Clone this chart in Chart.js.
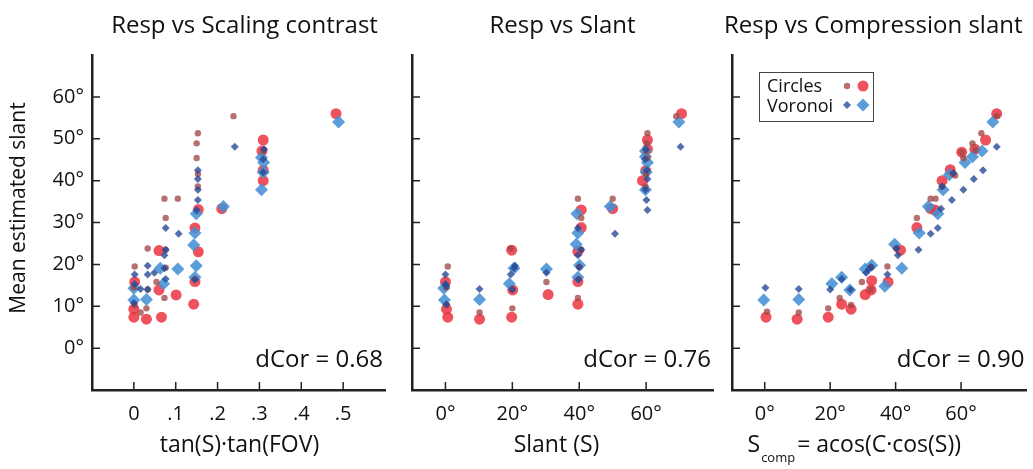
<!DOCTYPE html>
<html>
<head>
<meta charset="utf-8">
<script src="https://cdn.jsdelivr.net/npm/chart.js@4.4.1/dist/chart.umd.min.js"></script>
<style>
  html, body { margin: 0; padding: 0; background: #fff; }
  #wrap { position: relative; width: 1033px; height: 469px; overflow: hidden; }
  .panel { position: absolute; top: 0; height: 469px; }
</style>
</head>
<body>
<div id="wrap">
  <div class="panel" style="left:0;width:395px"><canvas id="c1"></canvas></div>
  <div class="panel" style="left:395px;width:325px"><canvas id="c2"></canvas></div>
  <div class="panel" style="left:720px;width:313px"><canvas id="c3"></canvas></div>
</div>
<script>
// tick values
const yTicks = [0, 10, 20, 30, 40, 50, 60];
const tanTicks = [0, 0.1, 0.2, 0.3, 0.4, 0.5];
const degTicks = [0, 20, 40, 60];

// panel 1: x = tan(S)*tan(FOV)
const tanCirclesBig = [[0.483,56.0],[0.309,49.7],[0.306,47.1],[0.309,42.5],[0.309,40.0],[0.210,33.3],[0.154,33.1],[0.146,28.7],[0.154,23.0],[0.146,15.9],[0.143,10.5],[0.060,23.3],[0.060,13.9],[0.066,7.4],[0.030,6.9],[0.101,12.7],[0.002,15.8],[0.0,9.3],[0.0,7.4]];
const tanCirclesSmall = [[0.238,55.4],[0.153,51.3],[0.150,48.9],[0.150,45.4],[0.153,41.6],[0.153,38.6],[0.073,35.7],[0.105,35.7],[0.076,31.1],[0.033,23.8],[0.076,23.5],[0.002,19.5],[0.054,15.8],[0.033,14.0],[0.073,12.0],[0.002,10.3],[0.030,9.5],[0.016,8.5],[0.309,47.1],[0.146,16.4],[0.076,19.2],[0.0,14.5]];
const tanVoronoiSmall = [[0.241,48.1],[0.311,47.5],[0.309,45.1],[0.153,42.5],[0.153,40.4],[0.153,37.8],[0.153,35.4],[0.150,33.0],[0.076,28.7],[0.107,27.3],[0.076,23.5],[0.073,22.2],[0.033,19.7],[0.073,19.1],[0.002,17.6],[0.033,17.6],[0.049,18.0],[0.076,16.5],[0.002,15.3],[0.016,14.1],[0.033,14.0],[0.146,16.4],[0.309,42.0],[0.0,10.8]];
const tanVoronoiBig = [[0.489,54.0],[0.305,45.5],[0.310,44.3],[0.309,42.0],[0.305,37.8],[0.214,33.8],[0.149,32.1],[0.146,27.5],[0.143,24.6],[0.149,19.7],[0.146,16.9],[0.105,18.9],[0.063,19.1],[0.071,15.4],[0.0,14.3],[0.0,11.5],[0.030,11.6]];

// panel 2: x = slant
const slCirclesBig = [[70.6,56.0],[60.4,49.7],[60.4,47.5],[59.9,42.4],[58.9,40.0],[50,33.3],[40.6,33.0],[40.6,28.8],[39.6,23.1],[39.6,15.9],[39.6,10.5],[19.8,23.4],[20.1,13.9],[19.8,7.4],[30.7,12.8],[10.2,6.9],[0,15.8],[0.3,9.3],[0.7,7.4]];
const slCirclesSmall = [[69,55.4],[60.4,51.3],[60.2,48.9],[60,47.1],[60.4,45.4],[60,41.6],[59.8,38.6],[39.6,35.7],[50,35.7],[40.6,31.1],[19.5,23.8],[40.6,23.5],[0.7,19.5],[30.2,15.8],[20,14.0],[39.6,12.0],[20,9.5],[10.2,8.5],[0.3,10.3],[40,19.4],[39.8,16.4],[0.2,14.5]];
const slVoronoiSmall = [[70.3,48.1],[60,47.5],[59.7,45.1],[60.2,42.5],[60.4,40.4],[59.8,37.8],[60.1,35.4],[60.4,33.0],[50.7,27.3],[39.6,28.7],[40.6,23.5],[39.6,22.2],[20.8,19.7],[30.2,18.0],[19.5,17.6],[0,17.6],[0,15.3],[10.2,14.1],[20,14.0],[0.3,10.5],[40,19.4],[39.8,16.4],[20.5,19.1],[0.3,14.8]];
const slVoronoiBig = [[69.8,54.0],[59.8,47.1],[59.8,45.7],[60.4,44.3],[60,42.0],[59.8,37.8],[49.3,33.8],[39.3,32.1],[39.6,27.5],[39.1,24.8],[40.1,19.8],[39.6,16.9],[30.2,18.9],[20.5,19.1],[19.1,15.4],[10.2,11.6],[-0.5,14.3],[-0.3,11.5]];

// panel 3: x = compression slant
const cpCirclesBig = [[70.9,56.0],[67.5,49.7],[64.2,47.5],[60.2,46.8],[56.7,42.6],[54.2,40.0],[50.7,33.3],[52.2,32.9],[46.5,28.8],[41.5,23.4],[37.7,15.8],[32.7,16.1],[32.5,13.9],[30.7,12.8],[26.4,9.3],[23.5,10.5],[19.4,7.4],[9.9,6.9],[0.4,7.4]];
const cpCirclesSmall = [[70.9,55.4],[66.2,51.3],[63.5,48.9],[60.7,45.4],[57.5,41.6],[58.2,41.2],[50.7,35.7],[52.2,35.7],[46.5,31.1],[40.2,23.8],[37.5,19.5],[29.7,15.8],[22.9,12.0],[26.4,10.3],[19.4,9.5],[10.4,8.5],[0.7,8.7],[32.5,14.0],[32.5,19.4],[64.4,47.3],[60.2,46.8],[54.2,38.6]];
const cpVoronoiSmall = [[70.9,48.1],[66.7,42.5],[63.9,40.4],[60.7,37.8],[57.2,35.4],[53.9,33.3],[52.9,28.7],[50.7,27.3],[47,23.5],[40.7,22.2],[37.5,17.6],[31,18.0],[32.5,19.4],[20,14.0],[26.2,14.0],[23.5,16.5],[0.2,14.4],[10.4,14.1],[54.2,38.6],[57.7,41.8],[31.8,18.8],[40.3,23.8]];
const cpVoronoiBig = [[69.7,54.0],[66.4,47.1],[63.5,45.7],[61.2,44.3],[56.4,41.4],[54.5,37.8],[50,33.8],[52.9,32.1],[47.2,27.5],[39.7,24.8],[41.9,19.1],[30.7,18.9],[32.7,19.8],[23.5,16.9],[20.5,15.4],[36.7,14.8],[26,13.9],[-0.3,11.5],[10.4,11.6]];

const FONT = '"Open Sans", "Noto Sans", sans-serif';
const INK = '#111';
const AXIS = '#222';

const styles = {
  circlesSmall: { color: 'rgba(160,72,72,0.78)', pointStyle: 'circle', radius: 3.2 },
  circlesBig: { color: 'rgba(236,52,64,0.85)', pointStyle: 'circle', radius: 5.5 },
  voronoiSmall: { color: 'rgba(40,74,150,0.8)', pointStyle: 'rectRot', radius: 4 },
  voronoiBig: { color: 'rgba(70,145,212,0.88)', pointStyle: 'rectRot', radius: 6.5 }
};

function makeDataset(label, arr, st) {
  return {
    label: label,
    data: arr.map(p => ({ x: p[0], y: p[1] })),
    pointStyle: st.pointStyle,
    pointRadius: st.radius,
    pointHoverRadius: st.radius,
    pointBackgroundColor: st.color,
    pointBorderWidth: 0,
    showLine: false
  };
}

// inward tick marks, titles, dCor text and the legend box
const panelDecor = {
  id: 'panelDecor',
  afterDraw(chart, args, opts) {
    const ctx = chart.ctx, a = chart.chartArea;
    const xs = chart.scales.x, ys = chart.scales.y;
    ctx.save();
    ctx.strokeStyle = AXIS;
    ctx.lineWidth = 1.5;
    ctx.beginPath();
    ys.ticks.forEach(t => {
      const py = ys.getPixelForValue(t.value);
      ctx.moveTo(a.left, py); ctx.lineTo(a.left + 8, py);
    });
    xs.ticks.forEach(t => {
      const px = xs.getPixelForValue(t.value);
      ctx.moveTo(px, a.bottom); ctx.lineTo(px, a.bottom - 8);
    });
    ctx.stroke();

    ctx.fillStyle = INK;
    ctx.textBaseline = 'alphabetic';
    // title
    ctx.font = '24px ' + FONT;
    ctx.textAlign = 'center';
    ctx.fillText(opts.title, (a.left + a.right) / 2 + opts.titleDx, 33);
    // dCor
    ctx.textAlign = 'right';
    ctx.fillText(opts.dcor, a.right - 2, 367);

    // x axis title (with optional subscript)
    const cx = (a.left + a.right) / 2 + opts.xTitleDx;
    ctx.font = '23px ' + FONT;
    if (opts.xSub) {
      ctx.textAlign = 'left';
      const w1 = ctx.measureText(opts.xTitle).width;
      const w3 = ctx.measureText(opts.xRest).width;
      ctx.font = '13px ' + FONT;
      const w2 = ctx.measureText(opts.xSub).width;
      const x0 = cx - (w1 + w2 + w3 + 3) / 2;
      ctx.font = '23px ' + FONT;
      ctx.fillText(opts.xTitle, x0, 452);
      ctx.font = '13px ' + FONT;
      ctx.fillText(opts.xSub, x0 + w1 + 1, 462);
      ctx.font = '23px ' + FONT;
      ctx.fillText(opts.xRest, x0 + w1 + w2 + 3, 452);
    } else {
      ctx.textAlign = 'center';
      ctx.fillText(opts.xTitle, cx, 452);
    }

    // y axis title
    if (opts.yTitle) {
      ctx.save();
      ctx.translate(19, 208);
      ctx.rotate(-Math.PI / 2);
      ctx.font = '21px ' + FONT;
      ctx.textAlign = 'center';
      ctx.textBaseline = 'middle';
      ctx.fillText(opts.yTitle, 0, 0);
      ctx.restore();
    }

    // legend
    if (opts.legend) {
      const lx = a.left + 27, ly = a.top + 17;
      ctx.fillStyle = '#fff';
      ctx.fillRect(lx, ly, 114, 49);
      ctx.strokeStyle = '#444';
      ctx.lineWidth = 1;
      ctx.strokeRect(lx + 0.5, ly + 0.5, 114, 49);
      ctx.fillStyle = INK;
      ctx.font = '18px ' + FONT;
      ctx.textAlign = 'left';
      ctx.fillText('Circles', lx + 8, ly + 20);
      ctx.fillText('Voronoi', lx + 8, ly + 40);
      const rows = [[styles.circlesSmall, styles.circlesBig, 14], [styles.voronoiSmall, styles.voronoiBig, 33]];
      rows.forEach(r => {
        [[r[0], 88], [r[1], 104]].forEach(m => {
          ctx.fillStyle = m[0].color;
          Chart.helpers.drawPoint(ctx, { pointStyle: m[0].pointStyle, radius: m[0].radius, rotation: 0, borderWidth: 0 }, lx + m[1], ly + r[2]);
        });
      });
    }
    ctx.restore();
  }
};

function makeChart(id, sets, xRange, xTicks, xLabel, yWidth, padRight, showY, decor) {
  return new Chart(document.getElementById(id), {
    type: 'scatter',
    data: {
      datasets: [
        makeDataset('Voronoi', sets[3], styles.voronoiSmall),
        makeDataset('Circles', sets[1], styles.circlesSmall),
        makeDataset('Voronoi mean', sets[2], styles.voronoiBig),
        makeDataset('Circles mean', sets[0], styles.circlesBig)
      ]
    },
    options: {
      responsive: true,
      maintainAspectRatio: false,
      animation: false,
      layout: { padding: { top: 55, right: padRight, left: 0, bottom: 0 } },
      plugins: { legend: { display: false }, tooltip: { enabled: false }, panelDecor: decor },
      scales: {
        x: {
          type: 'linear', min: xRange[0], max: xRange[1],
          afterBuildTicks: s => { s.ticks = xTicks.map(v => ({ value: v })); },
          afterFit: s => { s.height = 79; },
          grid: { display: false, drawTicks: false },
          border: { display: true, color: AXIS, width: 2.5 },
          ticks: { color: INK, font: { family: FONT, size: 20 }, padding: 12, maxRotation: 0, callback: xLabel }
        },
        y: {
          type: 'linear', min: -10, max: 70,
          afterBuildTicks: s => { s.ticks = yTicks.map(v => ({ value: v })); },
          afterFit: s => { s.width = yWidth; },
          grid: { display: false, drawTicks: false },
          border: { display: true, color: AXIS, width: 2.5 },
          ticks: { display: showY, color: INK, font: { family: FONT, size: 20 }, padding: 8, callback: v => v + '°' }
        }
      }
    },
    plugins: [panelDecor]
  });
}

const tanLabel = v => v === 0 ? '0' : v.toFixed(1).replace(/^0/, '');
const degLabel = v => v + '°';

makeChart('c1', [tanCirclesBig, tanCirclesSmall, tanVoronoiBig, tanVoronoiSmall], [-0.1, 0.6], tanTicks, tanLabel, 92, 10, true,
  { title: 'Resp vs Scaling contrast', titleDx: 6, dcor: 'dCor = 0.68', xTitle: 'tan(S)·tan(FOV)', xTitleDx: 1, yTitle: 'Mean estimated slant' });
makeChart('c2', [slCirclesBig, slCirclesSmall, slVoronoiBig, slVoronoiSmall], [-10, 80], degTicks, degLabel, 17, 7, false,
  { title: 'Resp vs Slant', titleDx: 0, dcor: 'dCor = 0.76', xTitle: 'Slant (S)', xTitleDx: -6 });
makeChart('c3', [cpCirclesBig, cpCirclesSmall, cpVoronoiBig, cpVoronoiSmall], [-10, 80], degTicks, degLabel, 12, 0, false,
  { title: 'Resp vs Compression slant', titleDx: -6, dcor: 'dCor = 0.90', xTitle: 'S', xSub: 'comp', xRest: '= acos(C·cos(S))', xTitleDx: -25, legend: true });
</script>
</body>
</html>
